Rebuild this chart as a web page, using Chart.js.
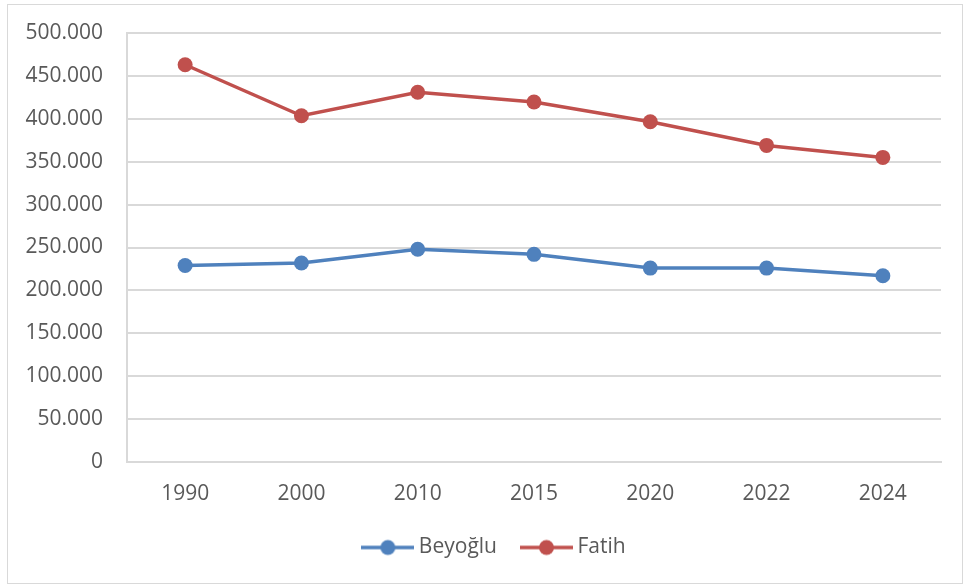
<!DOCTYPE html>
<html>
<head>
<meta charset="utf-8">
<script src="https://cdn.jsdelivr.net/npm/chart.js@4"></script>
<style>
  html, body { margin: 0; padding: 0; background: #fff; }
  #frame { position: absolute; left: 7px; top: 4px; width: 954px; height: 578px; border: 1px solid #D9D9D9; }
  #wrap { position: absolute; left: 0; top: 0; width: 965px; height: 585px; }
</style>
</head>
<body>
<div id="frame"></div>
<div id="wrap"><canvas id="myChart" width="965" height="585"></canvas></div>
<script>
// data
const years = ['1990', '2000', '2010', '2015', '2020', '2022', '2024'];
const beyoglu = [229000, 232000, 248000, 242000, 226000, 226000, 217000];
const fatih = [463000, 403500, 431000, 419500, 396500, 369000, 355000];

const colors = {
  blue: '#4F81BD',
  red: '#C0504D',
  grid: '#D9D9D9',
  text: '#595959'
};
const font = { family: '"Open Sans", sans-serif', size: 21 };

// legend marker: line with a dot in the middle
function marker(color) {
  const c = document.createElement('canvas');
  c.width = 53; c.height = 18;
  const g = c.getContext('2d');
  g.strokeStyle = color;
  g.lineWidth = 3.5;
  g.beginPath(); g.moveTo(0, 9); g.lineTo(53, 9); g.stroke();
  g.fillStyle = color;
  g.beginPath(); g.arc(26.5, 9, 7.5, 0, Math.PI * 2); g.fill();
  return c;
}

function fmt(v) {
  return v.toString().replace(/\B(?=(\d{3})+(?!\d))/g, '.');
}

// nudge the legend sideways, the frame centres it a bit right of the plot
const legendShift = {
  id: 'legendShift',
  afterLayout(chart) {
    chart.legend.left += 26;
    chart.legend.right += 26;
  }
};

const ctx = document.getElementById('myChart').getContext('2d');
new Chart(ctx, {
  type: 'line',
  data: {
    labels: years,
    datasets: [
      {
        label: 'Beyoğlu',
        data: beyoglu,
        borderColor: colors.blue,
        backgroundColor: colors.blue,
        borderWidth: 3.5,
        pointRadius: 7.5,
        pointHoverRadius: 7.5,
        pointBorderWidth: 0,
        tension: 0,
        legendMarker: marker(colors.blue)
      },
      {
        label: 'Fatih',
        data: fatih,
        borderColor: colors.red,
        backgroundColor: colors.red,
        borderWidth: 3.5,
        pointRadius: 7.5,
        pointHoverRadius: 7.5,
        pointBorderWidth: 0,
        tension: 0,
        legendMarker: marker(colors.red)
      }
    ]
  },
  options: {
    responsive: false,
    animation: false,
    layout: { padding: { left: 0, right: 24, top: 33, bottom: 17 } },
    plugins: {
      tooltip: { enabled: false },
      legend: {
        position: 'bottom',
        labels: {
          color: colors.text,
          font: font,
          usePointStyle: true,
          pointStyleWidth: 41,
          padding: 29,
          generateLabels(chart) {
            return chart.data.datasets.map((ds, i) => ({
              text: ds.label,
              pointStyle: ds.legendMarker,
              fillStyle: ds.borderColor,
              strokeStyle: ds.borderColor,
              lineWidth: 0,
              fontColor: colors.text,
              datasetIndex: i
            }));
          }
        }
      }
    },
    scales: {
      x: {
        offset: true,
        grid: { display: false, drawTicks: false },
        border: { display: true, color: colors.grid, width: 2 },
        ticks: { color: colors.text, font: font, padding: 19, maxRotation: 0 },
        afterFit(scale) { scale.height = 46; }
      },
      y: {
        min: 0,
        max: 500000,
        grid: { color: colors.grid, lineWidth: 2, drawTicks: false },
        border: { display: true, color: colors.grid, width: 2 },
        ticks: {
          stepSize: 50000,
          color: colors.text,
          font: font,
          padding: 24,
          callback: (v) => fmt(v)
        },
        afterFit(scale) {
          scale.width = 127;
          scale.paddingTop = 0;
          scale.paddingBottom = 0;
        }
      }
    }
  },
  plugins: [legendShift]
});
</script>
</body>
</html>
